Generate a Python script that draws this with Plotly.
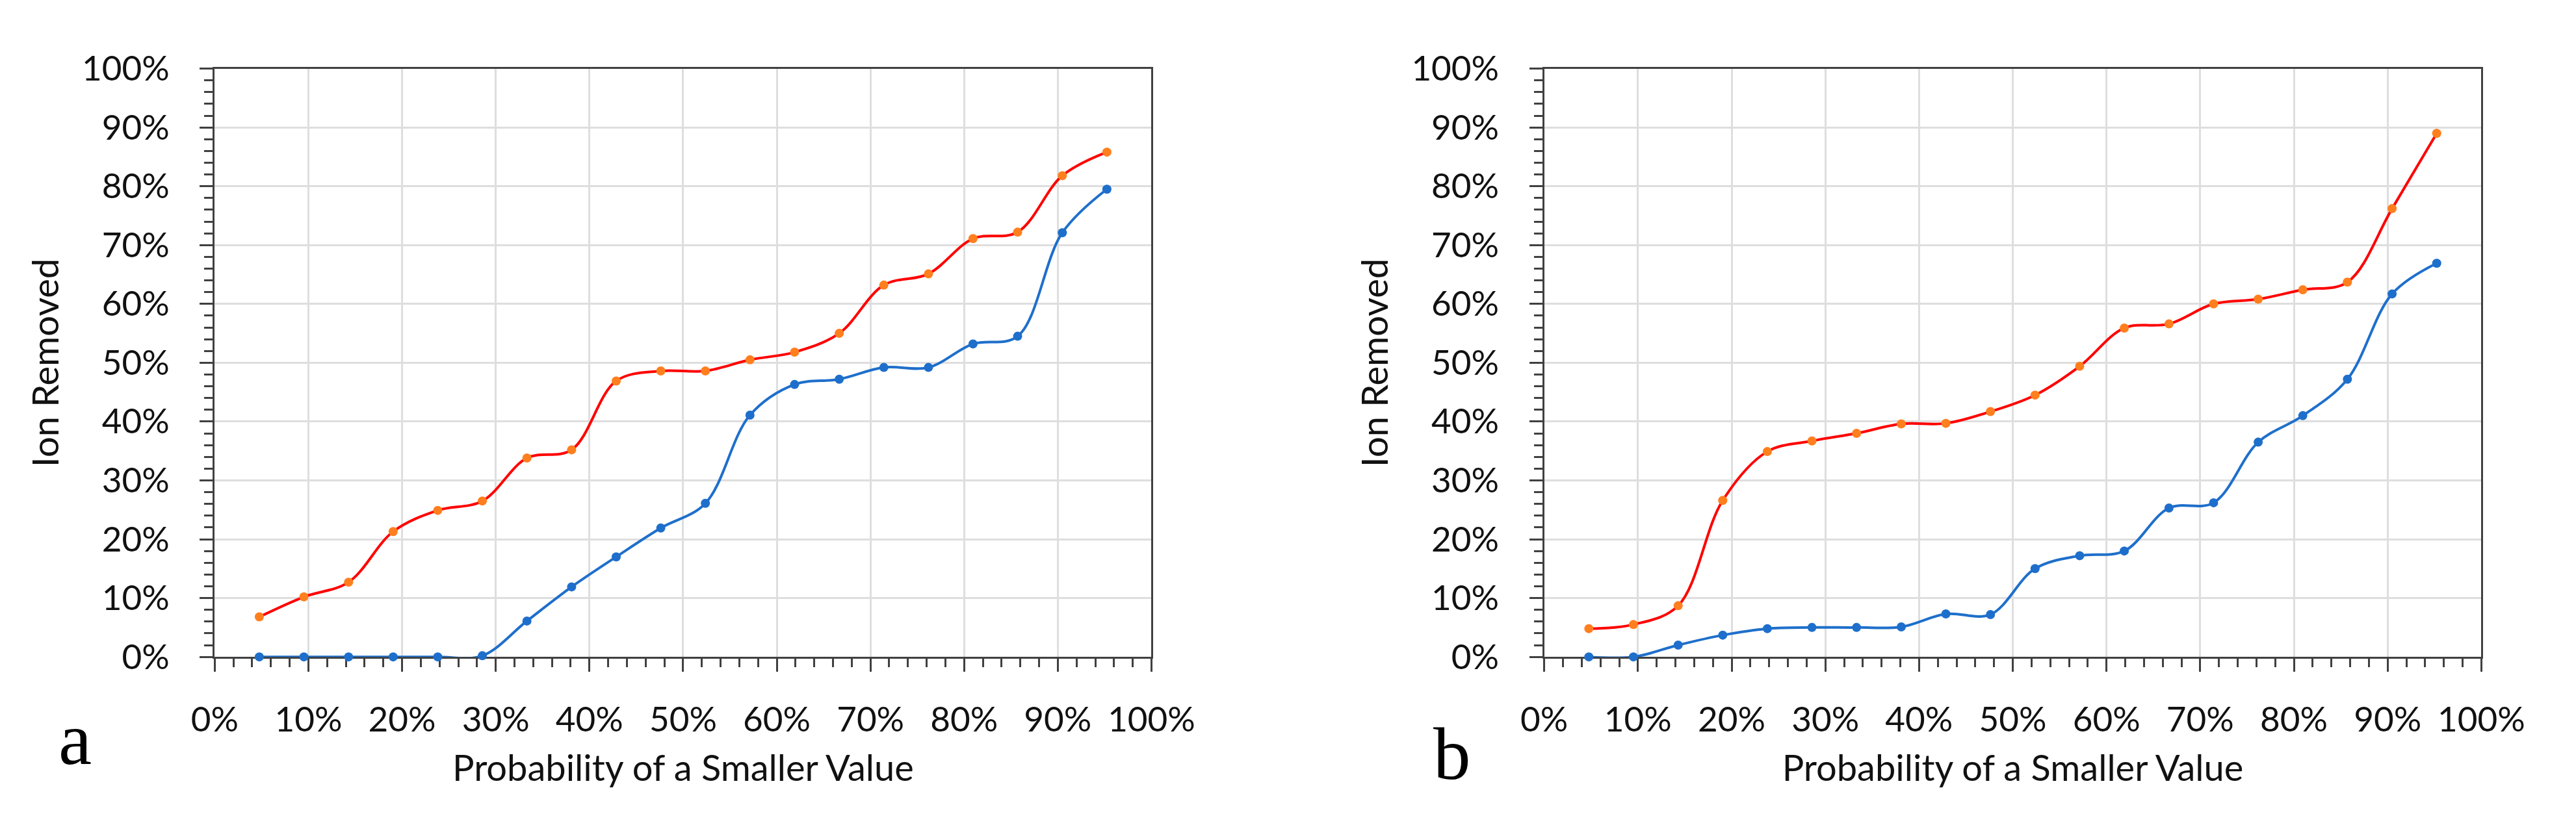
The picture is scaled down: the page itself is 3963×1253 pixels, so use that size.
import plotly.graph_objects as go

# ---- data ----
prob = [0.0476, 0.0952, 0.1429, 0.1905, 0.2381, 0.2857, 0.3333, 0.3810, 0.4286, 0.4762,
        0.5238, 0.5714, 0.6190, 0.6667, 0.7143, 0.7619, 0.8095, 0.8571, 0.9048, 0.9524]

a_upper = [0.068, 0.102, 0.127, 0.213, 0.249, 0.265, 0.338, 0.352, 0.469, 0.486,
           0.486, 0.505, 0.518, 0.550, 0.632, 0.651, 0.711, 0.722, 0.818, 0.858]
a_lower = [0.0, 0.0, 0.0, 0.0, 0.0, 0.002, 0.061, 0.119, 0.170, 0.219,
           0.261, 0.411, 0.463, 0.472, 0.492, 0.492, 0.532, 0.545, 0.721, 0.795]

b_upper = [0.048, 0.055, 0.087, 0.266, 0.349, 0.367, 0.380, 0.396, 0.397, 0.417,
           0.445, 0.494, 0.559, 0.566, 0.600, 0.608, 0.624, 0.637, 0.762, 0.890]
b_lower = [0.0, 0.0, 0.020, 0.037, 0.048, 0.050, 0.050, 0.051, 0.073, 0.072,
           0.150, 0.172, 0.180, 0.253, 0.262, 0.365, 0.410, 0.472, 0.617, 0.669]

panel_labels = ["a", "b"]
x_title = "Probability of a Smaller Value"
y_title = "Ion Removed"

W, H = 3963, 1253
RED, ORANGE, BLUE = "#FF0000", "#FF7F1E", "#1E6FCB"
FONT = "Lato, 'Open Sans', sans-serif"

fig = go.Figure()
for xa, ya, up, lo in [("x", "y", a_upper, a_lower), ("x2", "y2", b_upper, b_lower)]:
    fig.add_trace(go.Scatter(x=prob, y=lo, xaxis=xa, yaxis=ya, mode="lines+markers",
                             line=dict(color=BLUE, width=4, shape="spline", smoothing=1),
                             marker=dict(color=BLUE, size=14), showlegend=False, cliponaxis=False))
    fig.add_trace(go.Scatter(x=prob, y=up, xaxis=xa, yaxis=ya, mode="lines+markers",
                             line=dict(color=RED, width=4, shape="spline", smoothing=1),
                             marker=dict(color=ORANGE, size=14), showlegend=False, cliponaxis=False))

ydom = [1 - 1021.5 / H, 1 - 68 / H]
xdoms = [[293 / W, 1773 / W], [2393.5 / W, 3874 / W]]

axis_common = dict(range=[0, 1], dtick=0.1, tick0=0, tickformat=".0%",
                   showgrid=True, gridcolor="#DEDEDE", gridwidth=2.5,
                   showline=True, linecolor="#404040", linewidth=3, mirror=True,
                   ticks="outside", ticklen=20, tickwidth=3, tickcolor="#404040",
                   tickfont=dict(family=FONT, size=53, color="#111111"),
                   minor=dict(dtick=0.02, tick0=0, ticks="outside", ticklen=13, tickwidth=3,
                              tickcolor="#404040", showgrid=False),
                   zeroline=False, layer="below traces")

layout = dict(width=W, height=H, margin=dict(l=0, r=0, t=0, b=0),
              paper_bgcolor="white", plot_bgcolor="white", showlegend=False)
for i, suf in enumerate(["", "2"]):
    layout["xaxis" + suf] = dict(axis_common, domain=xdoms[i], anchor="y" + suf,
                                 ticklabelstandoff=28,
                                 title=dict(text=x_title, standoff=28,
                                            font=dict(family=FONT, size=56, color="#111111")))
    layout["yaxis" + suf] = dict(axis_common, domain=ydom, anchor="x" + suf,
                                 ticklabelstandoff=36,
                                 title=dict(text=y_title, standoff=18,
                                            font=dict(family=FONT, size=56, color="#111111")))
fig.update_layout(**layout)

# panel letters
for lab, xc, ybot in [(panel_labels[0], 72, 1224), (panel_labels[1], 2248, 1248)]:
    fig.add_annotation(text=lab, x=xc / W, y=1 - ybot / H, xref="paper", yref="paper",
                       xanchor="center", yanchor="bottom", showarrow=False,
                       font=dict(family="'Liberation Serif', 'Times New Roman', serif", size=115,
                                 color="#000000"))

fig.write_html("out.html")
